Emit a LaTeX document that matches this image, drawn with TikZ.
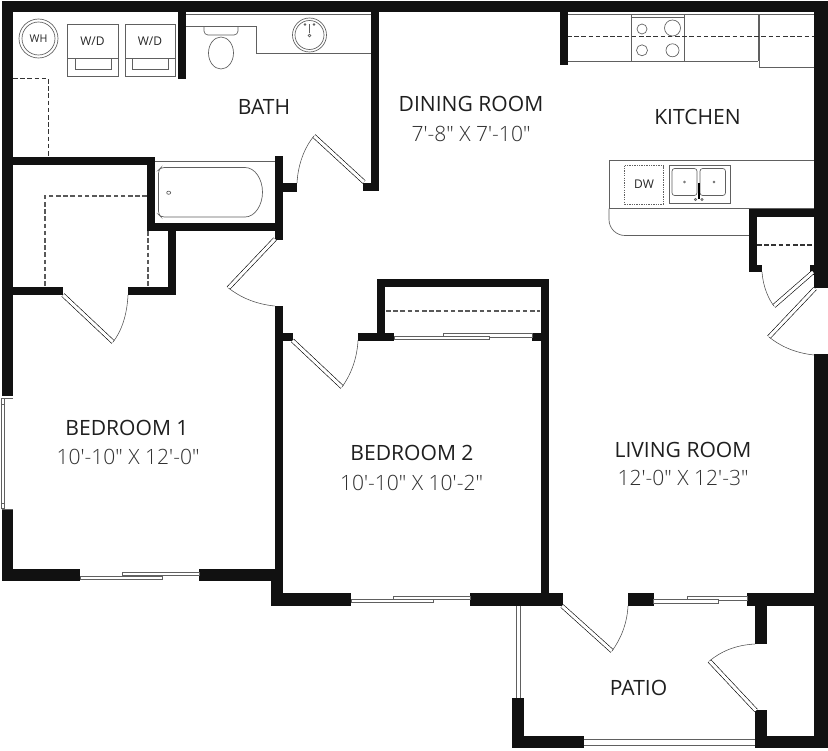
\documentclass[tikz,border=0pt]{standalone}
\usepackage{fontspec}
\setmainfont{Open Sans}
\newfontfamily\lightfont{Open Sans Light}
\definecolor{wallc}{HTML}{111111}
\definecolor{fixc}{HTML}{606060}
\definecolor{dimc}{HTML}{303030}
\newcommand\wall[4]{\fill[wallc] (#1,#2) rectangle (#3,#4);}
\newcommand\pane[4]{\draw[fix,fill=white] (#1,#2) rectangle (#3,#4);}
\newcommand\doorway[4]{\draw[leaf] (#1,#2) -- (#3,#4);}
\tikzset{
  fix/.style={draw=fixc,line width=.5pt},
  dashline/.style={draw=black!80,line width=.8pt,dash pattern=on 3.4pt off 2pt},
  leaf/.style={draw=black,line width=.45pt,double=white,double distance=2.3pt},
  swing/.style={draw=black!70,line width=.4pt},
  room/.style={font=\fontsize{15.8}{18}\selectfont,text=black!88,inner sep=0pt},
  dimen/.style={font=\lightfont\fontsize{15.8}{18}\selectfont,text=dimc,inner sep=0pt},
  small/.style={font=\fontsize{8}{9}\selectfont,text=black!85,inner sep=0pt}
}
\begin{document}
\begin{tikzpicture}[x=.75pt,y=-.75pt]
\useasboundingbox (0,0) rectangle (828,750);
\fill[white] (0,0) rectangle (828,750);

% fixtures: laundry
\draw[fix] (38.5,38.5) circle[radius=19.5];
\draw[fix] (38.5,38.5) circle[radius=16.5];
\draw[fix] (67.5,24.5) rectangle (118.5,76.5);
\draw[fix] (67.5,58) -- (118.5,58);
\draw[fix] (75,58) rectangle (111,69);
\draw[fix] (125.5,24.5) rectangle (175.5,76.5);
\draw[fix] (125.5,58) -- (175.5,58);
\draw[fix] (132.5,58) rectangle (168.5,69);
\node[small] (wh) at (38.5,39) {WH};
\node[small,font=\fontsize{9}{10}\selectfont] (wd1) at (92.5,41.5) {W/D};
\node[small,font=\fontsize{9}{10}\selectfont] (wd2) at (150,41.5) {W/D};
\draw[dashline] (13,78.5) -- (48.5,78.5) -- (48.5,157);

% bath fixtures
\draw[fix] (186,14) -- (371,14);
\draw[fix] (186,26) -- (256,26) -- (256,53) -- (371,53);
\draw[fix,rounded corners=3pt] (204,26) -- (204,35) -- (238,35) -- (238,26);
\draw[fix,fill=white] (221,53) ellipse[x radius=12.5,y radius=16];
\draw[fix] (309.5,35) circle[radius=17];
\draw[fix] (309.5,35) circle[radius=14.5];
\draw[fix] (309.5,24) -- (309.5,33);
\draw[fix] (309.5,35.5) circle[radius=1.4];
\draw[fix] (305,24.5) circle[radius=.8];
\draw[fix] (314,24.5) circle[radius=.8];
% tub
\draw[fix] (155,161.5) -- (275,161.5);
\draw[fix,rounded corners=2.5pt] (245,167.5) -- (161,167.5) -- (158.5,170) -- (158.5,214.5) -- (161,217) -- (245,217);
\draw[fix] (245,217) .. controls (255,217) and (262.5,205) .. (262.5,192.2) .. controls (262.5,179) and (255,167.5) .. (245,167.5);
\draw[fix] (168.7,192.7) ellipse[x radius=2,y radius=1.6];

% kitchen counters
\draw[fix] (567,14) -- (814,14);
\draw[fix] (567,61) -- (758,61);
\draw[fix] (758,14) -- (758,61);
\draw[fix] (759.5,14) rectangle (814,67.5);
\draw[fix] (631,14) rectangle (684,61);
\draw[fix] (631,17.5) -- (684,17.5);
\draw[dashline,line width=.75pt] (567,36.8) -- (814,36.8);
\draw[fix,fill=white] (642,29) circle[radius=5];
\draw[fix,fill=white] (672.5,28) circle[radius=8];
\draw[fix,fill=white] (642,50.3) circle[radius=5.5];
\draw[fix,fill=white] (672.5,50.3) circle[radius=6.5];
% island
\draw[fix] (814,160.5) -- (609,160.5) -- (609,208.5) -- (814,208.5);
\draw[fix,rounded corners=12pt] (609,208.5) -- (609,235.5) -- (749,235.5);
\draw[fix,dash pattern=on 1pt off .8pt,line width=.6pt] (624.5,165.5) rectangle (663.5,204);
\node[small,font=\fontsize{9}{10}\selectfont] (dw) at (644,184.5) {DW};
\draw[fix] (669,165.5) rectangle (730,203);
\draw[fix,rounded corners=2pt] (672,168.5) rectangle (697,195.5);
\draw[fix,rounded corners=2pt] (700,168.5) rectangle (725.5,195.5);
\draw[fix] (684.5,182) circle[radius=1];
\draw[fix] (714,182) circle[radius=1];
\draw[draw=black,line width=.9pt] (699,183) -- (699,199);
\draw[fix] (695.5,199.5) circle[radius=1.2];
\draw[fix] (702,199.5) circle[radius=1.2];

% walls
\wall{2}{1}{828}{12}      % top
\wall{2}{1}{13}{396}      % left upper
\wall{2}{510}{13}{581}    % left lower
\wall{2}{569}{80}{581}    % bedroom 1 south
\wall{199}{569}{283}{581}
\wall{274.5}{306}{282.5}{600}
\wall{271}{569}{283}{605.5}
\wall{271}{593}{351}{605.5}
\wall{470}{593}{563}{605.5}
\wall{541}{279}{548.5}{593}
\wall{377}{279}{548.5}{286.5}
\wall{377}{279}{385}{333}
\wall{358}{333}{394}{340.5}
\wall{532}{333}{548.5}{341}
\wall{282}{333}{293}{341}
\wall{275}{156}{283}{240}
\wall{283}{183}{297}{192}
\wall{13}{157}{155}{165}
\wall{147}{157}{155}{231}
\wall{147}{223}{275}{231}
\wall{168}{231}{176}{295}
\wall{128}{287}{176}{295}
\wall{13}{287}{63}{295}
\wall{178}{12}{186}{79}
\wall{371}{12}{379}{191}
\wall{363}{183}{379}{191}
\wall{560}{12}{567.5}{65}
\wall{814}{1}{827.5}{288}
\wall{749}{209}{814}{217}
\wall{749}{209}{757}{272}
\wall{749}{265}{762}{272}
\wall{810}{265}{814}{275}
\wall{814}{354}{827.5}{748}
\wall{628}{593}{653.5}{606}
\wall{747}{593}{814}{606}
\wall{755}{606}{767}{644}
\wall{755}{710}{767}{748}
\wall{755}{736}{827.5}{748}
\wall{512}{698}{524}{748}
\wall{512}{736}{584}{748}

% closet dashes
\draw[dashline,black!65] (147,196) -- (45,196) -- (45,287);
\draw[dashline,black!65] (148,231) -- (148,287);
\draw[dashline,black!65] (386,311) -- (540,311);
\draw[dashline] (757,245) -- (814,245);

% windows and sliders
\pane{122}{572}{199}{575.5}
\pane{80}{576}{162}{579}
\pane{393.5}{596.5}{470}{599.5}
\pane{351}{599.5}{433.5}{602.5}
\pane{443}{333.5}{532}{337}
\pane{394}{336.5}{489}{339.5}
\pane{687}{596}{747}{600}
\pane{653.5}{599.5}{718}{603}
\draw[fix] (516,606) -- (516,698);
\draw[fix] (520,606) -- (520,698);
\draw[fix] (584,739.5) -- (755,739.5);
\draw[fix] (584,745) -- (755,745);
% bedroom 1 window
\draw[fix] (1.5,398) -- (1.5,509);
\draw[fix] (4.5,398) -- (4.5,509);
\draw[fix] (1.5,398) -- (13,398);
\draw[fix] (1.5,509) -- (13,509);
\pane{1.5}{398.5}{4.5}{404}
\pane{1.5}{503}{4.5}{508.5}

% doors
\doorway{364}{182}{314}{136}
\draw[swing] (314,136) .. controls (304,148) and (298,165) .. (297,183);
\doorway{275}{239}{228.5}{288}
\draw[swing] (228.5,288) .. controls (240,297) and (255,304) .. (274.5,306);
\doorway{63}{295}{113}{342}
\draw[swing] (113,342) .. controls (121,332) and (127,316) .. (128,295);
\doorway{292.5}{340.5}{342}{387}
\draw[swing] (342,387) .. controls (350,376) and (357,360) .. (358,340.5);
\doorway{813}{272}{774}{306}
\draw[swing] (774,306) .. controls (769,300) and (763,287) .. (762,272);
\doorway{815}{288.5}{769}{337}
\draw[swing] (769,337) .. controls (780,346) and (795,353) .. (814,355);
\doorway{562}{606}{612}{651}
\draw[swing] (612,651) .. controls (620,640) and (627,625) .. (628,606);
\doorway{709.5}{661}{756}{710.5}
\draw[swing] (709.5,661) .. controls (720,652) and (735,645) .. (755,644);

% labels
\node[room] (bath) at (264,107) {BATH};
\node[room] (dining) at (471,104) {DINING ROOM};
\node[dimen] (diningd) at (471,134) {7'-8" X 7'-10"};
\node[room] (kitchen) at (697.5,117) {KITCHEN};
\node[room] (bed1) at (127,428) {BEDROOM 1};
\node[dimen] (bed1d) at (128,457) {10'-10" X 12'-0"};
\node[room] (bed2) at (412,453) {BEDROOM 2};
\node[dimen] (bed2d) at (411.5,482.5) {10'-10" X 10'-2"};
\node[room] (living) at (683,450) {LIVING ROOM};
\node[dimen] (livingd) at (683,478) {12'-0" X 12'-3"};
\node[room] (patio) at (638.5,688) {PATIO};
\end{tikzpicture}
\end{document}
